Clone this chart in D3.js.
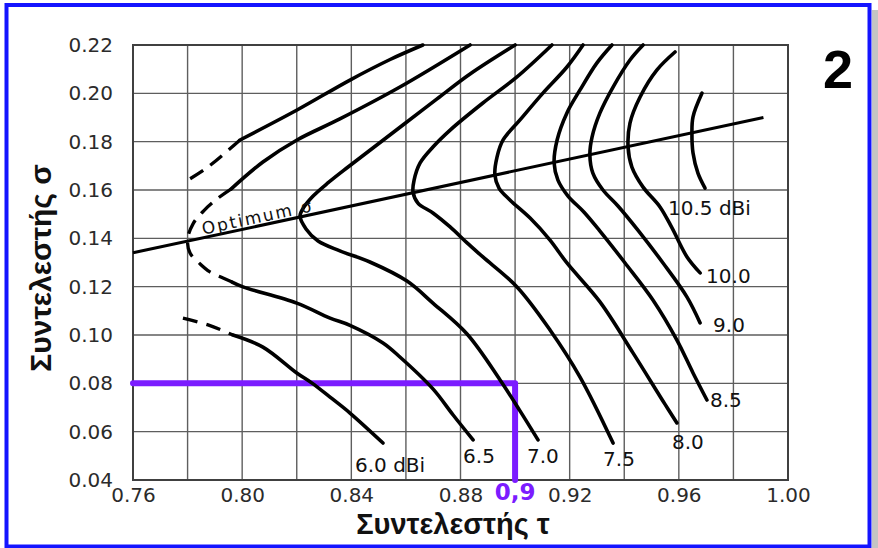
<!DOCTYPE html>
<html>
<head>
<meta charset="utf-8">
<script src="https://cdn.jsdelivr.net/npm/d3@7"></script>
<style>
    body { margin: 0; background: #fff; }
    .tick text { font-family: "DejaVu Sans", sans-serif; font-size: 20px; fill: #2b2b2b; }
    .gainLabel { font-family: "DejaVu Sans", sans-serif; font-size: 20px; fill: #111; }
    .axisTitle { font-family: "Liberation Sans", Arial, sans-serif; font-weight: bold; font-size: 29px; fill: #111; }
</style>
</head>
<body>
<div id="chart"></div>
<script>

// axis ticks
const tauTicks = [0.76, 0.80, 0.84, 0.88, 0.92, 0.96, 1.00];
const sigmaTicks = [0.04, 0.06, 0.08, 0.10, 0.12, 0.14, 0.16, 0.18, 0.20, 0.22];

// optimum sigma line [tau, sigma]
const optimumLine = [[0.760, 0.134], [0.991, 0.190]];

// gain contours, points [tau, sigma], ordered from top to bottom
const g60UpDash = [[0.7992, 0.1807], [0.7870, 0.1691], [0.7783, 0.1629]];
const g60Up = [[0.8662, 0.2200], [0.8542, 0.2140], [0.8395, 0.2055], [0.8201, 0.1931], [0.7992, 0.1807]];
const g60LowDash = [[0.7783, 0.1070], [0.7880, 0.1040], [0.7966, 0.1000]];
const g60Low = [[0.7966, 0.1000], [0.8076, 0.0950], [0.8200, 0.0843], [0.8256, 0.0801], [0.8322, 0.0743],
                [0.8395, 0.0677], [0.8516, 0.0553]];

const g65Up = [[0.8835, 0.2200], [0.8578, 0.2026], [0.8358, 0.1894], [0.8201, 0.1807], [0.8076, 0.1716], [0.7960, 0.1605]];
const g65Dash = [[0.7960, 0.1605], [0.7910, 0.1565], [0.7860, 0.1515], [0.7820, 0.1460], [0.7800, 0.1395],
                 [0.7809, 0.1339], [0.7846, 0.1294], [0.7882, 0.1261], [0.7930, 0.1236], [0.7963, 0.1219]];
const g65Low = [[0.7963, 0.1219], [0.8003, 0.1199], [0.8200, 0.1132], [0.8322, 0.1070], [0.8395, 0.1040],
                [0.8516, 0.0967], [0.8578, 0.0909], [0.8699, 0.0777], [0.8773, 0.0669], [0.8846, 0.0566]];

const g70 = [[0.9000, 0.2200], [0.8835, 0.2080], [0.8714, 0.1977], [0.8589, 0.1869], [0.8479, 0.1774],
             [0.8388, 0.1695], [0.8314, 0.1629], [0.8260, 0.1575], [0.8227, 0.1530],
             [0.8212, 0.1492], [0.8234, 0.1439], [0.8278, 0.1389], [0.8358, 0.1348], [0.8468, 0.1302],
             [0.8604, 0.1223], [0.8699, 0.1132], [0.8824, 0.1004], [0.8945, 0.0814], [0.9018, 0.0686], [0.9084, 0.0566]];

const g75 = [[0.9135, 0.2200], [0.9007, 0.2068], [0.8882, 0.1960], [0.8762, 0.1848], [0.8699, 0.1778],
             [0.8652, 0.1712], [0.8630, 0.1641], [0.8626, 0.1592], [0.8644, 0.1546], [0.8699, 0.1505],
             [0.8762, 0.1447], [0.8824, 0.1381], [0.8882, 0.1323], [0.9007, 0.1199], [0.9128, 0.1021],
             [0.9238, 0.0826], [0.9359, 0.0553]];

const g80 = [[0.9249, 0.2200], [0.9190, 0.2109], [0.9102, 0.2001], [0.9018, 0.1890], [0.8956, 0.1807],
             [0.8934, 0.1737], [0.8926, 0.1662], [0.8941, 0.1608], [0.8981, 0.1559], [0.9055, 0.1484],
             [0.9128, 0.1393], [0.9190, 0.1298], [0.9311, 0.1137], [0.9432, 0.0926], [0.9549, 0.0714], [0.9593, 0.0636]];

const g85 = [[0.9355, 0.2200], [0.9300, 0.2126], [0.9238, 0.2014], [0.9190, 0.1919], [0.9154, 0.1807],
             [0.9143, 0.1712], [0.9157, 0.1641], [0.9194, 0.1575], [0.9252, 0.1509], [0.9311, 0.1430],
             [0.9403, 0.1298], [0.9505, 0.1145], [0.9593, 0.0979], [0.9652, 0.0843], [0.9703, 0.0731]];

const g90 = [[0.9469, 0.2200], [0.9421, 0.2138], [0.9359, 0.2026], [0.9311, 0.1919], [0.9282, 0.1819],
             [0.9274, 0.1745], [0.9285, 0.1670], [0.9322, 0.1600], [0.9377, 0.1534], [0.9450, 0.1434],
             [0.9542, 0.1298], [0.9630, 0.1157], [0.9678, 0.1050]];

const g100 = [[0.9586, 0.2171], [0.9520, 0.2097], [0.9458, 0.1985], [0.9421, 0.1877], [0.9414, 0.1778],
              [0.9428, 0.1695], [0.9469, 0.1612], [0.9531, 0.1530], [0.9575, 0.1443], [0.9630, 0.1323], [0.9678, 0.1257]];

const g105 = [[0.9685, 0.2001], [0.9652, 0.1903], [0.9648, 0.1836], [0.9652, 0.1753], [0.9670, 0.1670], [0.9696, 0.1608]];

// labels at the lower end of each contour
const gainLabels = ["6.0 dBi", "6.5", "7.0", "7.5", "8.0", "8.5", "9.0", "10.0", "10.5 dBi"];
const labelCurves = [g60Low, g65Low, g70, g75, g80, g85, g90, g100, g105];
const labelOffsets = [[-28, 29], [-10, 23], [-11, 23], [-10, 23], [-5, 26], [3, 7], [13, 9], [6, 10], [-37, 27]];

// worked example (purple guide)
const guideTau = 0.90;
const guideSigma = 0.08;

const width = 878;
const height = 548;

const svg = d3.select("#chart")
    .append("svg")
    .attr("width", width)
    .attr("height", height);

// frame
svg.append("rect")
    .attr("x", 872).attr("y", 10)
    .attr("width", 6).attr("height", 538)
    .attr("fill", "#c4c4c4");

svg.append("rect")
    .attr("x", 6.5).attr("y", 5)
    .attr("width", 863).attr("height", 541.5)
    .attr("fill", "#fff")
    .attr("stroke", "#1414ff")
    .attr("stroke-width", 4);

const margin = {top: 45, left: 133, right: 90, bottom: 68};

const xScale = d3.scaleLinear()
    .domain([0.76, 1.00])
    .range([margin.left, width - margin.right]);

const yScale = d3.scaleLinear()
    .domain([0.04, 0.22])
    .range([height - margin.bottom, margin.top]);

// grid
svg.append("g")
    .selectAll("line")
    .data(xScale.ticks(12))
    .enter()
    .append("line")
        .attr("x1", d => xScale(d))
        .attr("x2", d => xScale(d))
        .attr("y1", yScale(0.04))
        .attr("y2", yScale(0.22))
        .attr("stroke", "#5e5e5e")
        .attr("stroke-width", 1.4);

svg.append("g")
    .selectAll("line")
    .data(yScale.ticks(9))
    .enter()
    .append("line")
        .attr("x1", xScale(0.76))
        .attr("x2", xScale(1.00))
        .attr("y1", d => yScale(d))
        .attr("y2", d => yScale(d))
        .attr("stroke", "#5e5e5e")
        .attr("stroke-width", 1.4);

svg.append("rect")
    .attr("x", xScale(0.76)).attr("y", yScale(0.22))
    .attr("width", xScale(1.00) - xScale(0.76))
    .attr("height", yScale(0.04) - yScale(0.22))
    .attr("fill", "none")
    .attr("stroke", "#404040")
    .attr("stroke-width", 2);

// axes
const xAxis = svg.append("g")
    .attr("transform", `translate(0,${yScale(0.04)})`)
    .call(d3.axisBottom(xScale).tickValues(tauTicks).tickFormat(d3.format(".2f")).tickSize(0).tickPadding(8));
xAxis.select(".domain").remove();

const yAxis = svg.append("g")
    .attr("transform", `translate(${xScale(0.76)},0)`)
    .call(d3.axisLeft(yScale).tickValues(sigmaTicks).tickFormat(d3.format(".2f")).tickSize(0).tickPadding(20));
yAxis.select(".domain").remove();

// purple guide
const line = d3.line()
    .x(d => xScale(d[0]))
    .y(d => yScale(d[1]));

svg.append("path")
    .attr("d", line([[0.76, guideSigma], [guideTau, guideSigma], [guideTau, 0.04]]))
    .attr("fill", "none")
    .attr("stroke", "#7b1cff")
    .attr("stroke-width", 6)
    .attr("stroke-linecap", "round")
    .attr("stroke-linejoin", "round");

svg.append("text")
    .attr("x", xScale(guideTau))
    .attr("y", yScale(0.04) + 20)
    .attr("text-anchor", "middle")
    .style("font-family", "'DejaVu Sans', sans-serif")
    .style("font-weight", "bold")
    .style("font-size", "23px")
    .attr("fill", "#7b1cff")
    .text("0,9");

// contours
const curve = d3.line()
    .x(d => xScale(d[0]))
    .y(d => yScale(d[1]))
    .curve(d3.curveCatmullRom.alpha(0.5));

const solidCurves = [g60Up, g60Low, g65Up, g65Low, g70, g75, g80, g85, g90, g100, g105];
const dashedCurves = [g60UpDash, g60LowDash, g65Dash];

svg.append("g")
    .selectAll("path")
    .data(solidCurves)
    .enter()
    .append("path")
        .attr("d", d => curve(d))
        .attr("fill", "none")
        .attr("stroke", "#000")
        .attr("stroke-width", 3.6)
        .attr("stroke-linecap", "round");

svg.append("g")
    .selectAll("path")
    .data(dashedCurves)
    .enter()
    .append("path")
        .attr("d", d => curve(d))
        .attr("fill", "none")
        .attr("stroke", "#000")
        .attr("stroke-width", 3.3)
        .attr("stroke-dasharray", "15,9");

// optimum sigma line
svg.append("path")
    .attr("d", line(optimumLine))
    .attr("fill", "none")
    .attr("stroke", "#000")
    .attr("stroke-width", 3);

const p1 = [xScale(optimumLine[0][0]), yScale(optimumLine[0][1])];
const p2 = [xScale(optimumLine[1][0]), yScale(optimumLine[1][1])];
const angle = Math.atan2(p2[1] - p1[1], p2[0] - p1[0]) * 180 / Math.PI;
const tOpt = (xScale(0.786) - p1[0]) / (p2[0] - p1[0]);

svg.append("text")
    .attr("transform", `translate(${p1[0] + tOpt * (p2[0] - p1[0])},${p1[1] + tOpt * (p2[1] - p1[1])}) rotate(${angle})`)
    .attr("y", -3)
    .style("font-family", "'DejaVu Sans', sans-serif")
    .style("font-size", "17px")
    .style("letter-spacing", "2px")
    .attr("fill", "#111")
    .text("Optimum σ");

// gain labels
svg.append("g")
    .selectAll("text")
    .data(gainLabels)
    .enter()
    .append("text")
        .attr("class", "gainLabel")
        .attr("x", (d, i) => xScale(labelCurves[i][labelCurves[i].length - 1][0]) + labelOffsets[i][0])
        .attr("y", (d, i) => yScale(labelCurves[i][labelCurves[i].length - 1][1]) + labelOffsets[i][1])
        .text(d => d);

// titles
svg.append("text")
    .attr("class", "axisTitle")
    .attr("x", 453)
    .attr("y", 534)
    .attr("text-anchor", "middle")
    .text("Συντελεστής  τ");

svg.append("text")
    .attr("class", "axisTitle")
    .attr("transform", "rotate(-90)")
    .attr("x", -268)
    .attr("y", 51)
    .attr("text-anchor", "middle")
    .style("font-size", "30px")
    .text("Συντελεστής  σ");

svg.append("text")
    .attr("x", 838)
    .attr("y", 88)
    .attr("text-anchor", "middle")
    .style("font-family", "'Liberation Sans', Arial, sans-serif")
    .style("font-weight", "bold")
    .style("font-size", "54px")
    .attr("fill", "#000")
    .text("2");

</script>
</body>
</html>
